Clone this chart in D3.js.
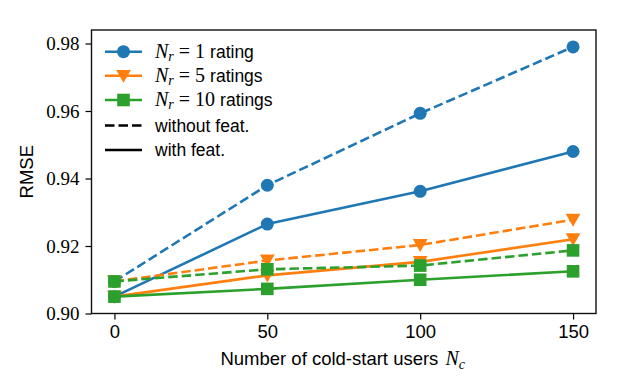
<!DOCTYPE html>
<html>
<head>
<meta charset="utf-8">
<script src="https://cdn.jsdelivr.net/npm/d3@7"></script>
<style>
  html, body { margin: 0; padding: 0; background: #fff; }
  svg { display: block; }
</style>
</head>
<body>
<svg id="chart" width="640" height="386"></svg>
<script>
// ---- data ----
const coldStartUsers = [0, 50, 100, 150];
const xTicks = [0, 50, 100, 150];
const yTicks = [0.90, 0.92, 0.94, 0.96, 0.98];
const yTickLabels = ["0.90", "0.92", "0.94", "0.96", "0.98"];

const nr1Without = [0.9095, 0.9380, 0.9593, 0.9790];
const nr1With    = [0.9050, 0.9265, 0.9362, 0.9480];
const nr5Without = [0.9095, 0.9157, 0.9203, 0.9278];
const nr5With    = [0.9050, 0.9113, 0.9153, 0.9220];
const nr10Without= [0.9095, 0.9131, 0.9142, 0.9187];
const nr10With   = [0.9050, 0.9073, 0.9100, 0.9125];

const seriesNr = ["1", "5", "10"];
const seriesWord = ["rating", "ratings", "ratings"];
const colors = ["#1f77b4", "#ff7f0e", "#2ca02c"];
const markers = ["circle", "triangle", "square"];

const series = [
  {i: 0, values: nr1Without, dashed: true},
  {i: 0, values: nr1With, dashed: false},
  {i: 1, values: nr5Without, dashed: true},
  {i: 1, values: nr5With, dashed: false},
  {i: 2, values: nr10Without, dashed: true},
  {i: 2, values: nr10With, dashed: false}
];

// ---- layout ----
const svg = d3.select("#chart");
const L = 91.5, R = 596, T = 30, B = 313.5;

const x = d3.scaleLinear().domain([-7.5, 157.5]).range([L, R]);
const y = d3.scaleLinear().domain([0.90, 0.984]).range([B, T]);

const serif = "'Liberation Serif', 'DejaVu Serif', serif";
const sans = "'Liberation Sans', Arial, sans-serif";

function drawMarker(g, type, cx, cy, color) {
  if (type === "circle") {
    g.append("circle").attr("cx", cx).attr("cy", cy).attr("r", 6.5).attr("fill", color);
  } else if (type === "square") {
    g.append("rect").attr("x", cx - 6.3).attr("y", cy - 6.3).attr("width", 12.6).attr("height", 12.6).attr("fill", color);
  } else {
    const s = 7.4;
    g.append("path")
      .attr("d", `M${cx - s},${cy - s * 0.8}L${cx + s},${cy - s * 0.8}L${cx},${cy + s * 0.95}Z`)
      .attr("fill", color);
  }
}

// ---- lines ----
const line = d3.line().x((d, k) => x(coldStartUsers[k])).y(d => y(d));
const plot = svg.append("g");
series.forEach(s => {
  const g = plot.append("g");
  g.append("path")
    .attr("d", line(s.values))
    .attr("fill", "none")
    .attr("stroke", colors[s.i])
    .attr("stroke-width", 2.6)
    .attr("stroke-dasharray", s.dashed ? "9.5,4" : null);
  s.values.forEach((v, k) => drawMarker(g, markers[s.i], x(coldStartUsers[k]), y(v), colors[s.i]));
});

// ---- axes ----
const xAxis = d3.axisBottom(x).tickValues(xTicks).tickSize(6).tickPadding(5);
const gx = svg.append("g").attr("transform", `translate(0,${B})`).call(xAxis);
gx.select(".domain").remove();
gx.selectAll("line").attr("stroke", "#000").attr("stroke-width", 1.2);
gx.selectAll("text").attr("font-family", sans).attr("font-size", 18.5).attr("fill", "#000").attr("dy", "0.72em");

const yAxis = d3.axisLeft(y).tickValues(yTicks).tickFormat((d, k) => yTickLabels[k]).tickSize(6).tickPadding(6);
const gy = svg.append("g").attr("transform", `translate(${L},0)`).call(yAxis);
gy.select(".domain").remove();
gy.selectAll("line").attr("stroke", "#000").attr("stroke-width", 1.2);
gy.selectAll("text").attr("font-family", serif).attr("font-size", 19).attr("fill", "#000");

svg.append("rect").attr("x", L).attr("y", T).attr("width", R - L).attr("height", B - T)
  .attr("fill", "none").attr("stroke", "#111").attr("stroke-width", 1.4);

// axis labels
const xl = svg.append("text").attr("x", (L + R) / 2 - 1).attr("y", 365)
  .attr("text-anchor", "middle").attr("font-family", sans).attr("font-size", 18.5).attr("fill", "#000");
xl.append("tspan").text("Number of cold-start users ");
xl.append("tspan").attr("font-family", serif).attr("font-style", "italic").attr("font-size", 20).attr("dx", 2).text("N");
xl.append("tspan").attr("font-family", serif).attr("font-style", "italic").attr("font-size", 14).attr("dy", 4).text("c");

svg.append("text").attr("transform", `translate(33,${(T + B) / 2}) rotate(-90)`)
  .attr("text-anchor", "middle").attr("font-family", sans).attr("font-size", 18.5).attr("fill", "#000").text("RMSE");

// ---- legend ----
const legend = svg.append("g");
const rowY = [51.7, 75.8, 100, 125.5, 150];
const lx0 = 105, lx1 = 142, tx = 155;
for (let i = 0; i < 3; i++) {
  legend.append("line").attr("x1", lx0).attr("x2", lx1).attr("y1", rowY[i]).attr("y2", rowY[i])
    .attr("stroke", colors[i]).attr("stroke-width", 2.6);
  drawMarker(legend, markers[i], (lx0 + lx1) / 2, rowY[i], colors[i]);
  const t = legend.append("text").attr("x", tx).attr("y", rowY[i] + 6).attr("fill", "#000").attr("font-size", 17.5);
  t.append("tspan").attr("font-family", serif).attr("font-style", "italic").attr("font-size", 20).text("N");
  t.append("tspan").attr("font-family", serif).attr("font-style", "italic").attr("font-size", 14).attr("dy", 3).text("r");
  t.append("tspan").attr("font-family", serif).attr("font-size", 20).attr("dy", -3).attr("dx", 5).text("=");
  t.append("tspan").attr("font-family", serif).attr("font-size", 20).attr("dx", 5).text(seriesNr[i]);
  t.append("tspan").attr("font-family", sans).attr("dx", 5).text(seriesWord[i]);
}
legend.append("line").attr("x1", lx0).attr("x2", lx1).attr("y1", rowY[3]).attr("y2", rowY[3])
  .attr("stroke", "#000").attr("stroke-width", 2.6).attr("stroke-dasharray", "9.5,4");
legend.append("text").attr("x", tx).attr("y", rowY[3] + 6).attr("font-family", sans).attr("font-size", 17.5).attr("fill", "#000").text("without feat.");
legend.append("line").attr("x1", lx0).attr("x2", lx1).attr("y1", rowY[4]).attr("y2", rowY[4])
  .attr("stroke", "#000").attr("stroke-width", 2.6);
legend.append("text").attr("x", tx).attr("y", rowY[4] + 6).attr("font-family", sans).attr("font-size", 17.5).attr("fill", "#000").text("with feat.");
</script>
</body>
</html>
